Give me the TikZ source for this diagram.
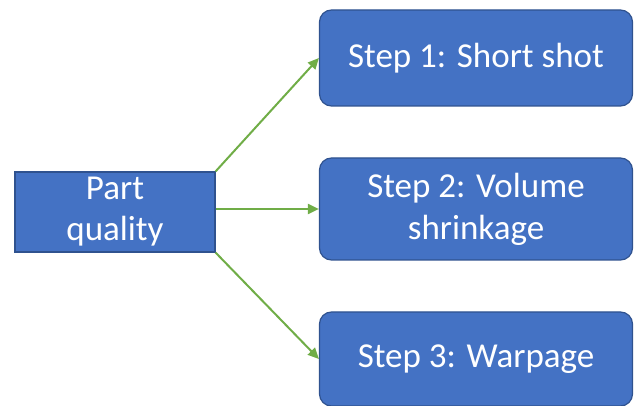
\documentclass[tikz,border=0pt]{standalone}
\usepackage{fontspec}
\setmainfont{Carlito}
\usetikzlibrary{arrows.meta}
\definecolor{boxfill}{HTML}{4472C4}
\definecolor{boxline}{HTML}{2F528F}
\definecolor{arrgreen}{HTML}{70AD47}
\tikzset{
  stepbox/.style={draw=boxline, line width=1.2pt, fill=boxfill, rounded corners=12pt,
    text=white, font=\fontsize{35}{42}\selectfont, align=center, inner sep=0pt},
  srcbox/.style={draw=boxline, line width=1.2pt, fill=boxfill,
    text=white, font=\fontsize{35}{41}\selectfont, align=center, inner sep=0pt},
  conn/.style={draw=arrgreen, line width=2pt, -{Triangle[length=11pt,width=10pt]}}
}
\begin{document}
\begin{tikzpicture}[x=1pt,y=-1pt]
\useasboundingbox (0,0) rectangle (635,406);
\node[srcbox, minimum width=200pt, minimum height=80pt] (pq) at (115,212) {Part\\quality};
\node[stepbox, minimum width=313pt, minimum height=96pt] (s1) at (476,58) {Step 1: Short shot};
\node[stepbox, minimum width=313pt, minimum height=102pt] (s2) at (476,209) {Step 2: Volume\\shrinkage};
\node[stepbox, minimum width=313pt, minimum height=94pt] (s3) at (476,359) {Step 3: Warpage};
\draw[conn] (pq.north east) -- (s1.west);
\draw[conn] (pq.east |- s2.west) -- (s2.west);
\draw[conn] (pq.south east) -- (s3.west);
\end{tikzpicture}
\end{document}
